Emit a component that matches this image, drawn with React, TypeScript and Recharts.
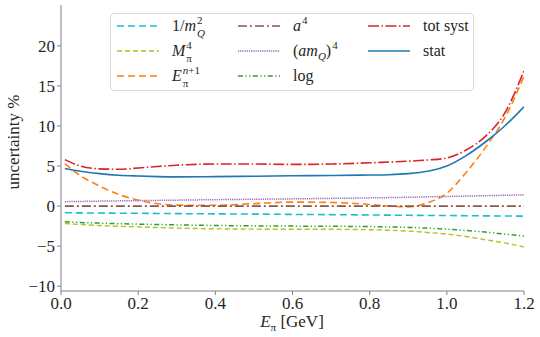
import React from "react";
import { LineChart, Line, XAxis, YAxis } from "recharts";

// E_pi grid [GeV]
const energy = [0.01, 0.05, 0.1, 0.15, 0.2, 0.25, 0.3, 0.4, 0.5, 0.6, 0.7, 0.8, 0.85, 0.9, 0.95, 1.0, 1.05, 1.1, 1.15, 1.2];

// uncertainties in %
const invMQ2 = [-0.83, -0.85, -0.87, -0.89, -0.9, -0.92, -0.94, -0.97, -1.0, -1.04, -1.07, -1.11, -1.13, -1.15, -1.17, -1.18, -1.2, -1.22, -1.24, -1.25];
const mPi4 = [-2.17, -2.3, -2.42, -2.52, -2.6, -2.68, -2.75, -2.84, -2.88, -2.9, -2.9, -2.95, -3.02, -3.12, -3.3, -3.5, -3.8, -4.2, -4.6, -5.1];
const ePiN1 = [5.3, 3.8, 2.5, 1.45, 0.75, 0.3, 0.12, 0.1, 0.3, 0.5, 0.45, 0.2, 0.0, -0.1, 0.4, 1.6, 4.2, 7.3, 11.0, 16.2];
const a4 = [0, 0, 0, 0, 0, 0, 0, 0, 0, 0, 0, 0, 0, 0, 0, 0, 0, 0, 0, 0];
const amQ4 = [0.55, 0.58, 0.62, 0.65, 0.68, 0.71, 0.74, 0.8, 0.85, 0.9, 0.96, 1.02, 1.06, 1.1, 1.15, 1.2, 1.25, 1.3, 1.35, 1.4];
const logErr = [-1.95, -2.05, -2.12, -2.2, -2.25, -2.3, -2.35, -2.42, -2.47, -2.5, -2.52, -2.56, -2.6, -2.66, -2.75, -2.88, -3.05, -3.25, -3.5, -3.75];
const totSyst = [5.8, 5.0, 4.65, 4.6, 4.75, 4.95, 5.1, 5.25, 5.25, 5.2, 5.25, 5.4, 5.5, 5.6, 5.75, 6.0, 7.0, 8.7, 11.6, 16.9];
const stat = [4.7, 4.35, 4.05, 3.85, 3.75, 3.68, 3.65, 3.68, 3.72, 3.78, 3.82, 3.88, 3.92, 4.05, 4.35, 5.0, 6.3, 8.0, 10.0, 12.4];

const xTicks = [0, 0.2, 0.4, 0.6, 0.8, 1.0, 1.2];
const yTicks = [-10, -5, 0, 5, 10, 15, 20];

const rows = energy.map((e, i) => ({
  e,
  invMQ2: invMQ2[i],
  mPi4: mPi4[i],
  ePiN1: ePiN1[i],
  a4: a4[i],
  amQ4: amQ4[i],
  logErr: logErr[i],
  totSyst: totSyst[i],
  stat: stat[i],
}));

const FONT = "'Liberation Serif', serif";
const AXIS = "#808080";
const TEXT = "#262626";

// stacked super/subscript like TeX
const Scripts = ({ sup, sub }: { sup: React.ReactNode; sub: React.ReactNode }) => (
  <span style={{ display: "inline-block", position: "relative", fontSize: 11, marginLeft: 1 }}>
    <span style={{ position: "relative", top: -7 }}>{sup}</span>
    <span style={{ position: "absolute", left: 0, top: 6 }}>{sub}</span>
  </span>
);

const i = (s: string) => <i>{s}</i>;

const SERIES = [
  { key: "invMQ2", color: "#17becf", dash: "7 4", width: 1.6, label: <span>1/{i("m")}<Scripts sup="2" sub={i("Q")} /></span> },
  { key: "mPi4", color: "#bcbd22", dash: "5 3", width: 1.4, label: <span>{i("M")}<Scripts sup="4" sub="π" /></span> },
  { key: "ePiN1", color: "#ff7f0e", dash: "7 4", width: 1.6, label: <span>{i("E")}<Scripts sup={<>{i("n")}+1</>} sub="π" /></span> },
  { key: "a4", color: "#8c564b", dash: "9 3 2 3", width: 1.6, label: <span>{i("a")}<span style={{ fontSize: 11, position: "relative", top: -7, marginLeft: 1 }}>4</span></span> },
  {
    key: "amQ4",
    color: "#9467bd",
    dash: "1.2 1",
    width: 1.5,
    label: (
      <span>
        ({i("am")}
        <span style={{ fontSize: 11, position: "relative", top: 4 }}>{i("Q")}</span>)
        <span style={{ fontSize: 11, position: "relative", top: -7, marginLeft: 1 }}>4</span>
      </span>
    ),
  },
  { key: "logErr", color: "#2ca02c", dash: "5 2.5 1.2 2.5 1.2 2.5", width: 1.5, label: <span>log</span> },
  { key: "totSyst", color: "#d62728", dash: "11 2.5 1.5 2.5", width: 1.6, label: <span>tot syst</span> },
  { key: "stat", color: "#1f77b4", dash: undefined, width: 1.6, label: <span>stat</span> },
];

const fmtY = (v: number) => (v < 0 ? "\u2212" + Math.abs(v) : String(v));

const LegendBox = () => {
  const cols = [116, 237, 367];
  const rowsY = [25, 50, 75];
  return (
    <div
      style={{
        position: "absolute",
        left: 110,
        top: 13,
        width: 364,
        height: 78,
        border: "1px solid #d9d9d9",
        borderRadius: 4,
        background: "rgba(255,255,255,0.85)",
        boxSizing: "border-box",
        fontFamily: FONT,
        fontSize: 16,
        color: TEXT,
      }}
    >
      {SERIES.map((s, k) => {
        const c = Math.floor(k / 3);
        const r = k % 3;
        const lx = cols[c] - 110;
        const ly = rowsY[r] - 13;
        return (
          <div key={s.key} style={{ position: "absolute", left: lx, top: ly - 12, height: 24, display: "flex", alignItems: "center", whiteSpace: "nowrap" }}>
            <svg width={44} height={24} style={{ display: "block" }}>
              <line x1={0} y1={12} x2={42} y2={12} stroke={s.color} strokeWidth={s.width} strokeDasharray={s.dash} />
            </svg>
            <span style={{ marginLeft: 11 }}>{s.label}</span>
          </div>
        );
      })}
    </div>
  );
};

export default function App() {
  return (
    <div style={{ position: "fixed", left: 0, top: 0, width: 540, height: 337, background: "#fff" }}>
      <LineChart width={540} height={337} data={rows} margin={{ top: 5, right: 16, bottom: 0, left: 0 }}>
        <XAxis
          dataKey="e"
          type="number"
          domain={[0, 1.2]}
          ticks={xTicks}
          tickFormatter={(v: number) => v.toFixed(1)}
          height={46}
          stroke={AXIS}
          tickSize={4}
          tickMargin={2}
          tick={{ fill: TEXT, fontFamily: FONT, fontSize: 17 }}
          allowDataOverflow
          label={{
            content: () => (
              <text x={292} y={327} textAnchor="middle" fontFamily={FONT} fontSize={17} fill={TEXT}>
                <tspan fontStyle="italic">E</tspan>
                <tspan fontSize={11} dy={4}>π</tspan>
                <tspan dy={-4}> [GeV]</tspan>
              </text>
            ),
          }}
        />
        <XAxis xAxisId="top" orientation="top" type="number" domain={[0, 1.2]} height={0} tick={false} tickLine={false} stroke={AXIS} />
        <YAxis
          type="number"
          domain={[-10.6, 25.1]}
          ticks={yTicks}
          tickFormatter={fmtY}
          width={61}
          stroke={AXIS}
          tickSize={4}
          tickMargin={2}
          tick={{ fill: TEXT, fontFamily: FONT, fontSize: 17 }}
          allowDataOverflow
          label={{
            content: () => (
              <text x={19} y={142} transform="rotate(-90 19 142)" textAnchor="middle" fontFamily={FONT} fontSize={17} fill={TEXT}>
                uncertainty %
              </text>
            ),
          }}
        />
        <YAxis yAxisId="right" orientation="right" type="number" domain={[-10.6, 25.1]} width={0} tick={false} tickLine={false} stroke={AXIS} />
        {SERIES.map((s) => (
          <Line
            key={s.key}
            dataKey={s.key}
            type="monotone"
            stroke={s.color}
            strokeWidth={s.width}
            strokeDasharray={s.dash}
            dot={false}
            activeDot={false}
            isAnimationActive={false}
          />
        ))}
      </LineChart>
      <LegendBox />
    </div>
  );
}
